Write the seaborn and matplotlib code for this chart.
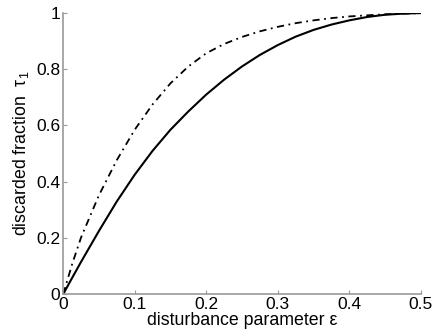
import matplotlib
matplotlib.use("Agg")
import matplotlib.pyplot as plt
import seaborn as sns
import pandas as pd

# data
eps = [0.0, 0.0125, 0.025, 0.05, 0.075, 0.1, 0.125, 0.15, 0.175, 0.2, 0.225, 0.25,
       0.275, 0.3, 0.325, 0.35, 0.375, 0.4, 0.425, 0.45, 0.475, 0.5]
tau_solid = [0.0, 0.058, 0.115, 0.225, 0.33, 0.425, 0.51, 0.585, 0.65, 0.71, 0.763, 0.81,
             0.851, 0.886, 0.916, 0.94, 0.959, 0.974, 0.986, 0.994, 0.998, 1.0]
tau_dashdot = [0.0, 0.107, 0.202, 0.352, 0.477, 0.585, 0.675, 0.75, 0.81, 0.857, 0.89, 0.915,
               0.935, 0.951, 0.964, 0.974, 0.982, 0.988, 0.992, 0.9955, 0.998, 1.0]
xticks = [0, 0.1, 0.2, 0.3, 0.4, 0.5]
xticklabels = ["0", "0.1", "0.2", "0.3", "0.4", "0.5"]
yticks = [0, 0.2, 0.4, 0.6, 0.8, 1.0]
yticklabels = ["0", "0.2", "0.4", "0.6", "0.8", "1"]

sns.set_theme(style="ticks")
plt.rcParams['font.family'] = ['Liberation Sans', 'DejaVu Sans']
plt.rcParams['mathtext.fontset'] = 'custom'
plt.rcParams['mathtext.rm'] = 'Liberation Sans'
plt.rcParams['mathtext.it'] = 'Liberation Sans'

df_s = pd.DataFrame({"eps": eps, "tau": tau_solid})
df_d = pd.DataFrame({"eps": eps, "tau": tau_dashdot})

fig = plt.figure(figsize=(4.36, 3.35), dpi=100)
ax = fig.add_axes([0.145, 0.122, 0.82, 0.839])

sns.lineplot(data=df_s, x="eps", y="tau", ax=ax, color="black", linewidth=1.5)
sns.lineplot(data=df_d, x="eps", y="tau", ax=ax, color="black", linewidth=1.3,
             linestyle=(0, (4, 2.5, 1, 2.5)))

ax.set_xlim(0, 0.5)
ax.set_ylim(0, 1)
ax.set_xticks(xticks)
ax.set_xticklabels(xticklabels)
ax.set_yticks(yticks)
ax.set_yticklabels(yticklabels)
ax.margins(0)

for s in ["top", "right"]:
    ax.spines[s].set_visible(False)
for s in ["left", "bottom"]:
    ax.spines[s].set_color("#999999")
    ax.spines[s].set_linewidth(1.2)
ax.tick_params(direction="in", length=3, width=0.8, color="#999999",
               labelsize=12.5, labelcolor="black", pad=2)

ax.set_xlabel("disturbance parameter ε", fontsize=12.8, color="black", labelpad=0)
ax.set_ylabel(r"discarded fraction  $\mathregular{τ_1}$", fontsize=12.8, color="black", labelpad=4)

fig.savefig("out.png", dpi=100)
